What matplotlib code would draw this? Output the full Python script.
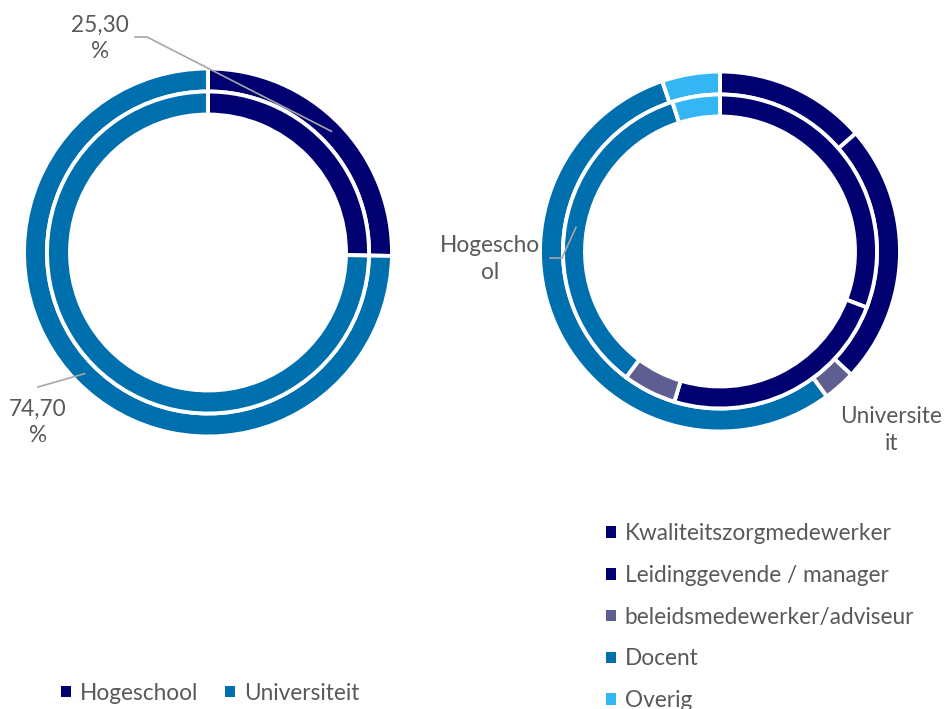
import numpy as np
import matplotlib.pyplot as plt
from matplotlib.patches import Patch

plt.rcParams['font.family'] = ['Lato', 'DejaVu Sans']

W, H = 946, 709

# linker grafiek: type instelling
instelling = ['Hogeschool', 'Universiteit']
instelling_pct = [25.30, 74.70]
instelling_labels = ['25,30\n%', '74,70\n%']

# rechter grafiek: functie, binnenring = Hogeschool, buitenring = Universiteit
functies = ['Kwaliteitszorgmedewerker', 'Leidinggevende / manager',
            'beleidsmedewerker/adviseur', 'Docent', 'Overig']
hogeschool_pct = [30.8, 23.9, 5.5, 34.9, 4.9]
universiteit_pct = [13.6, 23.4, 2.9, 54.9, 5.2]

kleur_inst = ['#000071', '#006FAE']
kleur_func = ['#000071', '#000071', '#5E5E93', '#006FAE', '#35B6F4']
tekst_kleur = '#595959'
lijn_kleur = '#A6A6A6'
fs = 16.3

fig = plt.figure(figsize=(W / 100, H / 100), dpi=100)
ax = fig.add_axes([0, 0, 1, 1])


def ring(values, colors, center, radius, width):
    wedges, _ = ax.pie(values, colors=colors, center=center, radius=radius,
                       startangle=90, counterclock=False,
                       wedgeprops=dict(width=width, edgecolor='white', linewidth=2.8))
    return wedges


def mid_point(values, idx, center, r):
    # midden van een segment
    cum = np.cumsum([0] + list(values))
    frac = (cum[idx] + values[idx] / 2) / cum[-1]
    ang = np.deg2rad(90 - 360 * frac)
    return center[0] + r * np.cos(ang), center[1] + r * np.sin(ang)


# linker donut
c_left = (208, H - 252.5)
ring(instelling_pct, kleur_inst, c_left, 184, 23)
ring(instelling_pct, kleur_inst, c_left, 161, 23)

# rechter donut
c_right = (720, H - 251.5)
ring(universiteit_pct, kleur_func, c_right, 180, 23)
ring(hogeschool_pct, kleur_func, c_right, 157, 22)

# data labels links
x0, y0 = mid_point(instelling_pct, 0, c_left, 173)
ax.plot([135, 147, x0], [H - 37, H - 37, y0], color=lijn_kleur, lw=1.2)
ax.text(100, H - 38, instelling_labels[0], ha='center', va='center',
        fontsize=fs, color=tekst_kleur, linespacing=1.3)
x1, y1 = mid_point(instelling_pct, 1, c_left, 173)
ax.plot([38, x1], [H - 387, y1], color=lijn_kleur, lw=1.2)
ax.text(38, H - 422, instelling_labels[1], ha='center', va='center',
        fontsize=fs, color=tekst_kleur, linespacing=1.3)

# reeksnamen rechts
x2, y2 = mid_point(hogeschool_pct, 3, c_right, 146)
ax.plot([550, 562, x2], [H - 258, H - 258, y2], color=lijn_kleur, lw=1.2)
ax.text(490, H - 259, 'Hogescho\nol', ha='center', va='center',
        fontsize=fs, color=tekst_kleur, linespacing=1.3)
ax.text(891, H - 430, 'Universite\nit', ha='center', va='center',
        fontsize=fs, color=tekst_kleur, linespacing=1.3)

ax.set_xlim(0, W)
ax.set_ylim(0, H)
ax.set_aspect('equal')
ax.axis('off')

inst_handles = [Patch(facecolor=c, edgecolor='none') for c in kleur_inst]
func_handles = [Patch(facecolor=c, edgecolor='none') for c in kleur_func]

fig.legend(inst_handles, instelling, loc='center left', ncol=2,
           bbox_to_anchor=(61 / W, 1 - 693 / H), frameon=False, fontsize=fs,
           handlelength=0.42, handleheight=0.42, handletextpad=0.4,
           columnspacing=1.2, borderpad=0, borderaxespad=0,
           labelcolor=tekst_kleur)
fig.legend(func_handles, functies, loc='upper left', ncol=1,
           bbox_to_anchor=(606 / W, 1 - 523 / H), frameon=False, fontsize=fs,
           handlelength=0.42, handleheight=0.42, handletextpad=0.4,
           labelspacing=0.92, borderpad=0, borderaxespad=0,
           labelcolor=tekst_kleur)

fig.savefig('out.png', dpi=100)
